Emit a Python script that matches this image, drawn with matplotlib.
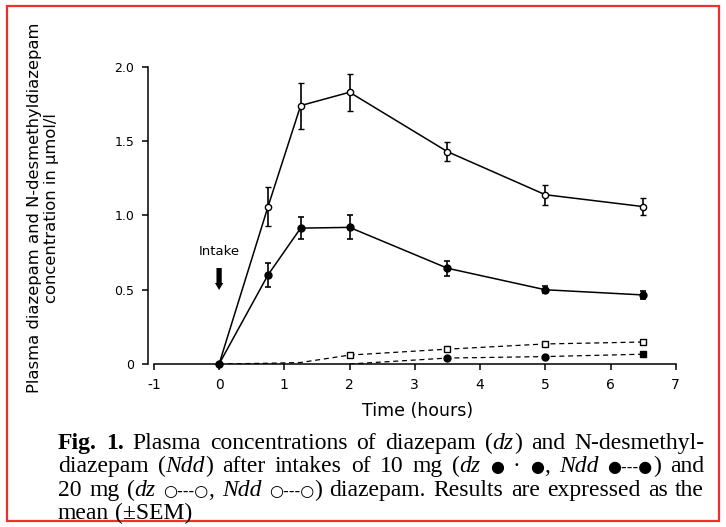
import matplotlib
matplotlib.use("Agg")
import matplotlib.pyplot as plt
from matplotlib.patches import Rectangle

# ---------------- data ----------------
time_h = [0, 0.75, 1.25, 2, 3.5, 5, 6.5]
dz_20mg = [0, 1.06, 1.74, 1.83, 1.43, 1.14, 1.06]
dz_20mg_sem = [0, 0.13, 0.155, 0.125, 0.065, 0.068, 0.058]
dz_10mg = [0, 0.60, 0.915, 0.92, 0.645, 0.50, 0.465]
dz_10mg_sem = [0, 0.08, 0.075, 0.08, 0.05, 0.025, 0.025]
ndd_20mg = [0, 0.005, 0.01, 0.06, 0.10, 0.135, 0.148]
ndd_10mg = [0, 0.0, 0.0, 0.0, 0.04, 0.05, 0.066]
xticks = [-1, 0, 1, 2, 3, 4, 5, 6, 7]
yticks = [0, 0.5, 1.0, 1.5, 2.0]
ytick_labels = ["0", "0.5", "1.0", "1.5", "2.0"]

W, H = 726, 527
fig = plt.figure(figsize=(W / 100, H / 100), dpi=100)
fig.patch.set_facecolor("white")

# red frame
fig.patches.append(Rectangle((7 / W, 6 / H), 712 / W, 515 / H, transform=fig.transFigure,
                             fill=False, edgecolor="#f03030", linewidth=1.6))

ax = fig.add_axes([148 / W, 1 - 364 / H, 531 / W, 297 / H])
ax.set_xlim(-1.09, 7.05)
ax.set_ylim(0, 2.0)
for s in ["top", "right"]:
    ax.spines[s].set_visible(False)
ax.spines["bottom"].set_bounds(-1, 7)
ax.spines["left"].set_bounds(0, 2.0)
for s in ["bottom", "left"]:
    ax.spines[s].set_linewidth(1.1)
ax.set_xticks(xticks)
ax.set_xticklabels([str(t) for t in xticks])
ax.set_yticks(yticks)
ax.set_yticklabels(ytick_labels)
ax.tick_params(axis="both", direction="out", length=4, width=1.1, pad=6)
ax.tick_params(axis="x", labelsize=10)
ax.tick_params(axis="y", labelsize=9)
ax.patch.set_alpha(0)

lw = 1.1
# dz 20 mg: open circles, solid line
ax.errorbar(time_h, dz_20mg, yerr=dz_20mg_sem, color="black", lw=lw, elinewidth=1.2,
            capsize=2, capthick=1.2, marker="o", ms=4.5, mfc="white", mec="black", mew=1.0,
            zorder=3, clip_on=False)
# dz 10 mg: filled circles, solid line
ax.errorbar(time_h, dz_10mg, yerr=dz_10mg_sem, color="black", lw=lw, elinewidth=1.2,
            capsize=2, capthick=1.2, marker="o", ms=5, mfc="black", mec="black",
            zorder=3, clip_on=False)
# Ndd 20 mg: open squares, dashed
ax.plot(time_h[3:], ndd_20mg[3:], color="black", lw=0.9, ls=(0, (4, 3)), marker="s",
        ms=4, mfc="white", mec="black", mew=1.0, zorder=3)
ax.plot(time_h[:4], ndd_20mg[:4], color="black", lw=0.9, ls=(0, (4, 3)), zorder=2)
# Ndd 10 mg: filled markers, dashed
ax.plot(time_h[3:], ndd_10mg[3:], color="black", lw=0.9, ls=(0, (4, 3)), zorder=2)
ax.plot(time_h[4:6], ndd_10mg[4:6], ls="none", marker="o", ms=5, color="black", zorder=3)
ax.plot(time_h[6:], ndd_10mg[6:], ls="none", marker="s", ms=4.5, color="black", zorder=3)

# intake annotation
ax.text(0, 0.755, "Intake", ha="center", va="center", fontsize=9.5)
ax.annotate("", xy=(0, 0.48), xytext=(0, 0.665),
            arrowprops=dict(arrowstyle="simple,head_width=0.6,head_length=0.5,tail_width=0.38",
                            color="black", lw=0))

# axis labels
fig.text(418 / W, 1 - 411 / H, "Time (hours)", ha="center", va="center", fontsize=12.5)
fig.text(43 / W, 1 - 208 / H,
         "Plasma diazepam and N-desmethyldiazepam\nconcentration in µmol/l",
         rotation=90, ha="center", va="center", fontsize=11.8, linespacing=1.15)

# ---------------- caption (justified, mixed styles) ----------------
serif = ["Liberation Serif", "DejaVu Serif"]
sym = ["DejaVu Sans"]
cap_lines = [
    [("Fig. 1.", "b"), (" Plasma concentrations of diazepam (", "n"), ("dz", "i"),
     (") and N-desmethyl-", "n")],
    [("diazepam (", "n"), ("Ndd", "i"), (") after intakes of 10 mg (", "n"), ("dz", "i"),
     (" ", "n"), ("●", "s"), (" · ", "n"), ("●", "s"), (", ", "n"), ("Ndd", "i"), (" ", "n"),
     ("●---●", "s"), (") and", "n")],
    [("20 mg (", "n"), ("dz", "i"), (" ", "n"), ("○---○", "s"), (", ", "n"), ("Ndd", "i"),
     (" ", "n"), ("○---○", "s"), (") diazepam. Results are expressed as the", "n")],
    [("mean (±SEM)", "n")],
]
fs = 17
left_px, right_px = 58, 704
baselines = [449, 472, 496, 519]
renderer = fig.canvas.get_renderer()


def mk(x, y, s, st):
    kw = dict(fontsize=fs, va="baseline", ha="left", transform=None)
    if st == "b":
        kw.update(family=serif, weight="bold")
    elif st == "i":
        kw.update(family=serif, style="italic")
    elif st == "s":
        kw.update(family=sym, fontsize=fs * 0.68)
    else:
        kw.update(family=serif)
    return fig.text(x, y, s, **kw)


def width(s, st):
    t = mk(0, 0, s, st)
    w = t.get_window_extent(renderer).width
    t.remove()
    return w


for li, line in enumerate(cap_lines):
    toks = []
    for s, st in line:
        buf = ""
        for ch in s:
            if ch == " " and st != "s":
                if buf:
                    toks.append((buf, st))
                    buf = ""
                toks.append((" ", st))
            else:
                buf += ch
        if buf:
            toks.append((buf, st))
    widths = [width(s, st) if s != " " else width("a a", st) - width("aa", st) for s, st in toks]
    nsp = sum(1 for s, _ in toks if s == " ")
    total = sum(widths)
    extra = 0
    if li < 3 and nsp:
        extra = (right_px - left_px - total) / nsp
    x = left_px
    y = H - baselines[li]
    for (s, st), w in zip(toks, widths):
        if s == " ":
            x += w + extra
        else:
            mk(x, y, s, st)
            x += w

fig.savefig("out.png", dpi=100)
